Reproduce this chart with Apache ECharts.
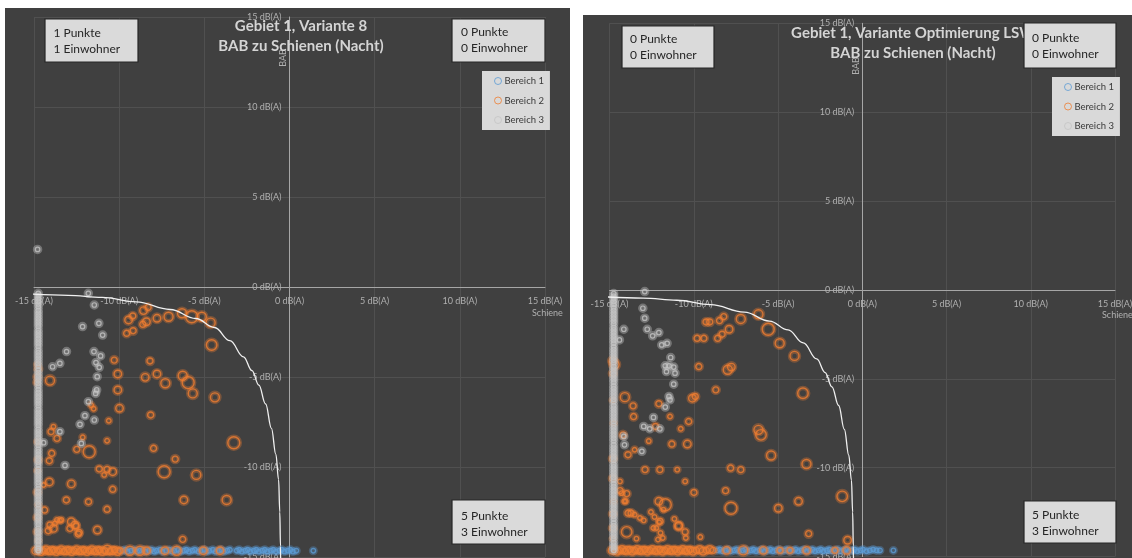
<!DOCTYPE html>
<html>
<head>
<meta charset="utf-8">
<script src="https://cdn.jsdelivr.net/npm/echarts/dist/echarts.min.js"></script>
<style>
  html, body { margin: 0; padding: 0; background: #ffffff; }
  #chart { width: 1132px; height: 558px; }
</style>
</head>
<body>
<div id="chart"></div>
<script>
// Konflikt-Diagramme: Pegeldifferenz Schiene (x) gegen BAB (y), je Immissionsort ein Kreis.
const BEREICHE = ['Bereich 1', 'Bereich 2', 'Bereich 3'];
const FARBEN = ['#5b9bd5', '#ed7d31', '#c4c4c4'];
const EINHEIT = ' dB(A)';
const ACHSE_MIN = -15, ACHSE_MAX = 15, ACHSE_SCHRITT = 5;
const ACHSENNAME_X = 'Schiene';
const ACHSENNAME_Y = 'BAB';

const TITEL = [
  ['Gebiet 1, Variante 8', 'BAB zu Schienen (Nacht)'],
  ['Gebiet 1, Variante Optimierung LSW', 'BAB zu Schienen (Nacht)']
];
// Quadranten-Zusammenfassung: oben links, oben rechts, unten rechts
const QUADRANTEN = [
  [['1 Punkte', '1 Einwohner'], ['0 Punkte', '0 Einwohner'], ['5 Punkte', '3 Einwohner']],
  [['0 Punkte', '0 Einwohner'], ['0 Punkte', '0 Einwohner'], ['5 Punkte', '3 Einwohner']]
];

// Grenzkurve (energetische Summe)
const grenzkurve = [[-15.4,-0.38],[-13,-0.46],[-11,-0.58],[-9,-0.83],[-7,-1.25],[-5.5,-1.75],[-4.4,-2.25],
  [-3.5,-2.98],[-2.7,-3.88],[-2.2,-4.65],[-1.8,-5.45],[-1.4,-6.5],[-1.06,-7.85],[-0.8,-9.3],[-0.64,-10.7],
  [-0.57,-12.5],[-0.53,-14.4],[-0.52,-15.2]];

// ---------- Variante 8 ----------
// [Schiene, BAB, Einwohnerklasse]
const b1Links = [[-9.8,-14.65],[-9.65,-14.6],[-9.5,-14.7],[-9.3,-14.65],[-9.1,-14.6],[-8.95,-14.7],[-8.8,-14.65],
  [-8.6,-14.6],[-8.45,-14.7],[-8.25,-14.65],[-8.1,-14.6],[-7.95,-14.7],[-7.8,-14.65],[-7.6,-14.6],[-7.45,-14.7],
  [-7.25,-14.65],[-7.05,-14.6],[-6.9,-14.7],[-6.75,-14.65],[-6.55,-14.6],[-6.4,-14.7],[-6.2,-14.65],[-6.05,-14.6],
  [-5.9,-14.7],[-5.7,-14.65],[-5.55,-14.6],[-5.35,-14.7],[-5.2,-14.65],[-5.0,-14.6],[-4.85,-14.7],[-4.7,-14.65],
  [-4.5,-14.6],[-4.35,-14.7],[-4.15,-14.65],[-4.0,-14.6],[-3.85,-14.7],[-3.65,-14.65],[-3.5,-14.6],
  [-3.1,-14.65],[-2.95,-14.6],[-2.8,-14.7],[-2.6,-14.65],[-2.45,-14.6],[-2.3,-14.7],[-2.1,-14.65],[-1.95,-14.6],
  [-1.8,-14.7],[-1.6,-14.65],[-1.45,-14.6],[-1.3,-14.7],[-1.1,-14.65],[-0.95,-14.6],[-0.8,-14.7],[-0.6,-14.65],
  [-0.45,-14.6],[-0.3,-14.7],[-0.1,-14.65],[0.05,-14.6],[0.2,-14.7],[0.4,-14.65],[1.4,-14.65]];

const b2Links = [[-9.45,-1.83,3],[-9.2,-1.61,2],[-9.56,-2.57,2],[-9.18,-2.43,2],[-8.57,-1.31,3],[-8.3,-1.13,2],
  [-8.61,-2.07,2],[-8.4,-1.93,3],[-7.78,-1.74,3],[-7.1,-1.65,4],[-6.31,-1.46,4],[-5.74,-1.65,6],[-5.15,-1.65,4],
  [-4.63,-1.98,4],[-4.57,-3.22,5],[-10.29,-4.06,2],[-8.19,-4.11,2],[-10.08,-4.83,3],[-8.47,-5.02,3],[-7.78,-4.83,3],
  [-7.29,-5.35,4],[-6.27,-4.93,4],[-5.95,-5.31,6],[-5.68,-5.91,4],[-4.38,-6.13,4],[-10.08,-5.72,3],[-9.98,-6.74,3],
  [-8.15,-7.11,2],[-10.61,-7.43,1],[-10.71,-8.54,1],[-7.98,-8.96,2],[-6.71,-9.56,2],[-7.36,-10.26,6],[-5.47,-10.44,4],
  [-3.27,-8.65,6],[-6.2,-11.83,3],[-3.69,-11.83,4],[-14.06,-5.2,4],[-13.86,-7.76,1],[-14.0,-8.04,2],[-13.65,-8.41,2],
  [-13.96,-9.24,2],[-14.1,-9.65,2],[-12.49,-9.02,2],[-12.14,-8.35,1],[-11.76,-9.15,6],[-11.17,-10.11,2],
  [-10.71,-10.13,2],[-10.38,-10.26,3],[-10.88,-10.44,1],[-10.38,-11.24,2],[-12.81,-10.94,3],[-14.1,-10.83,3],
  [-14.44,-11.0,1],[-13.1,-11.83,2],[-11.8,-11.93,2],[-10.71,-12.35,2],[-14.38,-12.39,2],[-11.28,-13.5,3],
  [-13.86,-13.41,3],[-14.06,-13.22,2],[-13.65,-12.94,1],[-13.39,-12.94,1],[-12.81,-13.04,3],[-12.6,-13.22,3],
  [-12.35,-13.63,2],[-6.27,-14.02,2],[-11.65,-6.56,1],[-11.5,-6.76,1],[-13.77,-13.13,1],[-13.47,-12.98,1],
  [-14.16,-13.54,2],[-12.53,-13.28,2],[-12.4,-13.72,2],[-12.89,-13.41,2],
  [-14.8,-4.3,1],[-14.75,-4.55,2],[-14.8,-5.0,2],[-14.85,-5.3,1],[-14.8,-8.6,1],[-14.75,-9.6,2],[-14.8,-10.2,1],
  [-14.8,-11.4,2],[-14.75,-12.1,1],[-14.8,-12.8,2],[-14.8,-13.6,2],[-14.75,-14.1,1],
  [-14.9,-14.65,3],[-14.75,-14.6,2],[-14.6,-14.7,3],[-14.45,-14.65,2],[-14.3,-14.6,3],[-14.15,-14.7,2],
  [-14.0,-14.65,3],[-13.85,-14.6,2],[-13.7,-14.7,3],[-13.55,-14.65,2],[-13.4,-14.6,3],[-13.25,-14.7,2],
  [-13.1,-14.65,3],[-12.95,-14.6,2],[-12.8,-14.7,3],[-12.65,-14.65,2],[-12.5,-14.6,3],[-12.35,-14.7,2],
  [-12.2,-14.65,3],[-12.05,-14.6,2],[-11.9,-14.7,3],[-11.75,-14.65,2],[-11.6,-14.6,3],[-11.45,-14.7,2],
  [-11.3,-14.65,3],[-11.15,-14.6,2],[-11.0,-14.7,3],[-10.85,-14.65,2],[-10.7,-14.6,4],[-10.55,-14.7,2],
  [-10.4,-14.65,3],[-10.25,-14.6,2],[-10.1,-14.7,3],[-9.95,-14.65,2],[-9.37,-14.65,4],[-8.78,-14.65,4],
  [-8.39,-14.65,3],[-7.31,-14.65,3],[-6.63,-14.65,4],[-5.06,-14.65,3],[-4.08,-14.65,3]];

const b3LinksStreu = [[-14.79,2.09],[-11.81,-0.35],[-11.46,-1.0],[-11.19,-2.02],[-12.15,-2.2],[-10.97,-2.67],
  [-13.09,-3.59],[-11.48,-3.59],[-11.09,-3.83],[-13.91,-4.43],[-13.48,-4.24],[-11.36,-4.2],[-11.17,-4.46],
  [-11.29,-4.98],[-11.32,-5.72],[-11.38,-5.91],[-11.81,-6.37],[-12.01,-7.15],[-12.3,-7.63],[-11.46,-7.39],
  [-13.48,-8.04],[-14.44,-8.65],[-12.22,-8.69],[-13.18,-9.91]];
// Säule bei Schiene = -14.75 (BAB-Werte)
const b3LinksSaeule = [-0.35,-0.5,-0.65,-0.8,-0.95,-1.1,-1.3,-1.45,-1.6,-1.75,-1.9,-2.05,-2.2,-2.4,-2.55,-2.7,
  -2.85,-3.0,-3.15,-3.3,-3.5,-3.65,-3.8,-3.95,-4.1,-4.25,-4.4,-4.6,-4.75,-4.9,-5.05,-5.2,-5.35,-5.5,-5.7,-5.85,
  -6.0,-6.15,-6.3,-6.45,-6.6,-6.8,-6.95,-7.1,-7.25,-7.4,-7.55,-7.7,-7.9,-8.05,-8.2,-8.35,-8.5,-8.65,-8.8,-9.0,
  -9.15,-9.3,-9.45,-9.6,-9.75,-9.9,-10.1,-10.25,-10.4,-10.55,-10.7,-10.85,-11.0,-11.2,-11.35,-11.5,-11.65,-11.8,
  -11.95,-12.1,-12.3,-12.45,-12.6,-12.75,-12.9,-13.05,-13.2,-13.4,-13.55,-13.7,-13.85,-14.0,-14.15,-14.3,-14.5,
  -14.65];

// ---------- Variante Optimierung LSW ----------
const b1Rechts = [[-8.6,-14.65],[-8.45,-14.6],[-8.3,-14.7],[-8.1,-14.65],[-7.95,-14.6],[-7.8,-14.7],[-7.6,-14.65],
  [-7.45,-14.6],[-7.3,-14.7],[-7.1,-14.65],[-6.95,-14.6],[-6.8,-14.7],[-6.6,-14.65],[-6.45,-14.6],[-6.3,-14.7],
  [-6.1,-14.65],[-5.95,-14.6],[-5.8,-14.7],[-5.6,-14.65],[-5.45,-14.6],[-5.3,-14.7],[-5.1,-14.65],[-4.95,-14.6],
  [-4.8,-14.7],[-4.6,-14.65],[-4.45,-14.6],[-4.3,-14.7],[-4.1,-14.65],[-3.95,-14.6],[-3.8,-14.7],[-3.6,-14.65],
  [-3.45,-14.6],[-3.3,-14.7],[-3.1,-14.65],[-2.95,-14.6],[-2.8,-14.7],[-2.6,-14.65],[-2.45,-14.6],[-2.3,-14.7],
  [-2.1,-14.65],[-1.95,-14.6],[-1.8,-14.7],[-1.6,-14.65],[-1.45,-14.6],[-1.3,-14.7],[-1.1,-14.65],[-0.95,-14.6],
  [-0.8,-14.7],[-0.6,-14.65],[-0.45,-14.6],[-0.3,-14.7],[-0.1,-14.65],[0.05,-14.6],[0.25,-14.7],[0.45,-14.65],
  [0.65,-14.6],[0.85,-14.65],[1.05,-14.65],[1.85,-14.65]];

const b2Rechts = [[-6.16,-1.37,4],[-5.58,-2.21,6],[-4.9,-3.0,4],[-4.02,-3.71,4],[-7.21,-1.63,4],[-7.9,-2.21,3],
  [-8.22,-1.5,2],[-8.47,-1.72,2],[-8.32,-2.49,2],[-8.58,-2.72,2],[-9.27,-1.8,2],[-9.05,-1.8,2],[-9.8,-2.72,2],
  [-9.4,-2.72,2],[-9.7,-4.31,2],[-7.98,-4.49,4],[-7.77,-4.34,3],[-8.69,-5.62,2],[-10.08,-6.09,3],[-9.91,-5.99,2],
  [-3.52,-5.81,5],[-6.16,-7.87,4],[-6.01,-8.15,5],[-5.41,-9.31,4],[-3.31,-9.79,4],[-10.3,-7.4,2],[-10.77,-7.81,1],
  [-10.38,-8.67,3],[-11.3,-8.67,2],[-11.41,-7.12,1],[-12.07,-6.4,2],[-13.6,-6.52,2],[-13.57,-7.12,2],[-14.09,-6.03,4],
  [-14.2,-8.15,2],[-13.9,-9.27,2],[-13.51,-8.99,1],[-12.67,-8.5,1],[-12.89,-10.11,2],[-12.01,-10.11,2],
  [-10.98,-10.11,1],[-7.81,-10.02,2],[-7.21,-10.11,2],[-10.51,-10.77,1],[-9.99,-11.39,2],[-8.11,-11.29,2],
  [-7.79,-12.28,6],[-4.98,-12.28,3],[-3.78,-11.89,3],[-1.19,-11.61,5],[-3.18,-13.71,2],[-0.87,-14.08,3],
  [-14.37,-11.29,2],[-14.04,-11.89,1],[-11.69,-12.08,6],[-12.07,-11.89,3],[-11.8,-12.36,1],[-11.15,-12.88,1],
  [-10.9,-13.3,3],[-10.51,-13.61,2],[-10.47,-13.95,1],[-9.61,-13.9,1],[-13.98,-13.61,5],[-13.4,-13.99,1],
  [-13.9,-12.55,2],[-13.72,-12.55,2],[-13.51,-12.64,1],[-13.19,-12.83,1],[-12.97,-12.96,1],[-12.54,-12.49,1],
  [-12.33,-12.77,1],[-12.05,-13.07,1],[-12.22,-13.39,1],[-11.97,-13.67,1],[-11.84,-13.95,1],[-12.12,-14.04,1],
  [-12.4,-13.39,1],[-14.38,-10.77,1],[-14.28,-11.43,1],[-13.98,-11.46,2],[-14.12,-11.89,1],[-12.0,-13.01,2],
  [-10.89,-13.25,3],[-12.27,-7.68,2],
  [-14.7,-4.2,4],[-14.8,-4.0,3],[-14.8,-4.7,2],[-14.8,-6.2,1],[-14.75,-7.5,1],[-14.8,-9.5,2],[-14.8,-10.6,2],
  [-14.75,-11.9,1],[-14.8,-12.6,2],[-14.8,-13.4,2],[-14.8,-14.0,1],
  [-14.85,-14.65,3],[-14.7,-14.6,2],[-14.55,-14.7,3],[-14.4,-14.65,2],[-14.25,-14.6,3],[-14.1,-14.7,2],
  [-13.95,-14.65,3],[-13.8,-14.6,2],[-13.65,-14.7,3],[-13.5,-14.65,2],[-13.35,-14.6,3],[-13.2,-14.7,2],
  [-13.05,-14.65,3],[-12.9,-14.6,2],[-12.75,-14.7,3],[-12.6,-14.65,2],[-12.45,-14.6,3],[-12.3,-14.7,2],
  [-12.15,-14.65,3],[-12.0,-14.6,2],[-11.85,-14.7,3],[-11.7,-14.65,2],[-11.55,-14.6,3],[-11.4,-14.7,2],
  [-11.25,-14.65,3],[-11.1,-14.6,2],[-10.95,-14.7,3],[-10.8,-14.65,2],[-10.65,-14.6,3],[-10.5,-14.7,2],
  [-10.35,-14.65,3],[-10.2,-14.6,2],[-10.05,-14.7,3],[-9.85,-14.65,2],[-9.65,-14.6,3],[-9.45,-14.7,3],
  [-9.25,-14.65,2],[-9.05,-14.6,3],[-8.85,-14.65,2],[-8.05,-14.65,3],[-7.06,-14.65,4],[-5.87,-14.65,3],
  [-4.88,-14.65,2],[-4.29,-14.65,2],[-3.3,-14.65,3],[-1.62,-14.65,2],[-0.92,-14.65,3]];

const b3RechtsStreu = [[-12.91,-0.09],[-13.02,-1.03],[-12.91,-1.59],[-12.76,-2.21],[-12.44,-2.58],[-12.07,-2.4],
  [-11.9,-3.09],[-11.58,-3.0],[-11.37,-3.8],[-11.69,-4.27],[-11.47,-4.27],[-11.19,-4.34],[-11.62,-4.59],
  [-11.11,-4.68],[-11.19,-5.3],[-11.47,-5.99],[-11.41,-6.18],[-11.69,-6.59],[-12.39,-7.17],[-12.97,-7.68],
  [-12.61,-7.81],[-12.01,-7.81],[-14.15,-2.21],[-14.41,-2.81],[-14.15,-8.24],[-14.11,-8.71],[-13.08,-9.08]];
const b3RechtsSaeule = [-0.2,-0.35,-0.5,-0.65,-0.8,-1.0,-1.15,-1.3,-1.45,-1.6,-1.75,-1.9,-2.1,-2.25,-2.4,-2.55,
  -2.7,-2.85,-3.0,-3.2,-3.35,-3.5,-3.65,-3.8,-3.95,-4.1,-4.3,-4.45,-4.6,-4.75,-4.9,-5.05,-5.2,-5.4,-5.55,-5.7,
  -5.85,-6.0,-6.15,-6.3,-6.5,-6.65,-6.8,-6.95,-7.1,-7.25,-7.4,-7.6,-7.75,-7.9,-8.05,-8.2,-8.35,-8.5,-8.7,-8.85,
  -9.0,-9.15,-9.3,-9.45,-9.6,-9.8,-9.95,-10.1,-10.25,-10.4,-10.55,-10.7,-10.9,-11.05,-11.2,-11.35,-11.5,-11.65,
  -11.8,-12.0,-12.15,-12.3,-12.45,-12.6,-12.75,-12.9,-13.1,-13.25,-13.4,-13.55,-13.7,-13.85,-14.0,-14.2,-14.35,
  -14.5,-14.65];
const SAEULE_X = -14.75;

const PANEL_DATEN = [
  { b1: b1Links, b2: b2Links, saeule: b3LinksSaeule, streu: b3LinksStreu },
  { b1: b1Rechts, b2: b2Rechts, saeule: b3RechtsSaeule, streu: b3RechtsStreu }
];

// ---------- Layout ----------
const FONT = 'Lato';
const LAYOUT = [
  { bg: [5, 8, 565, 570], grid: { left: 34, top: 17, width: 511, height: 540 }, titleX: 301, titleTop: 16,
    boxes: [[45, 19, 93, 43, 53.5, 25], [452, 19, 93, 43, 461, 24], [452, 500, 93, 44, 461, 508]],
    legend: { left: 482, top: 71 }, bab: [283, 58], schiene: [532, 313] },
  { bg: [583, 15, 560, 570], grid: { left: 609.5, top: 23.3, width: 505.5, height: 533.3 }, titleX: 913, titleTop: 23,
    boxes: [[622, 26, 92, 42, 630, 31], [1024, 23, 92, 45, 1032, 30], [1024, 501, 92, 42, 1032, 507]],
    legend: { left: 1052, top: 77 }, bab: [856, 66], schiene: [1102, 315] }
];

const groesse = d => 3 + 1.5 * (d[2] !== undefined ? d[2] : 1);
const rgba = (hex, a) => {
  const n = parseInt(hex.slice(1), 16);
  return 'rgba(' + (n >> 16) + ',' + ((n >> 8) & 255) + ',' + (n & 255) + ',' + a + ')';
};
// Kreise: breiter, halbtransparenter Leuchtrand unter einem schmalen Ring
const haloStil = k => ({ color: 'none', borderColor: rgba(FARBEN[k], k === 2 ? 0.5 : 0.42), borderWidth: k === 2 ? 5 : 4.5 });
const ringStil = k => ({ color: 'none', borderColor: FARBEN[k], borderWidth: k === 2 ? 1.2 : 1.4 });

const grids = [], xAxes = [], yAxes = [], titles = [], legends = [], series = [], graphics = [];
const nullAnteil = (0 - ACHSE_MIN) / (ACHSE_MAX - ACHSE_MIN);

LAYOUT.forEach((L, i) => {
  grids.push(Object.assign({ outerBoundsMode: 'none', containLabel: false }, L.grid));
  // Achsen liegen im Nullpunkt der jeweils anderen Achse
  const achse = (pos, offset, margin) => ({
    type: 'value', gridIndex: i, position: pos, offset: offset,
    min: ACHSE_MIN, max: ACHSE_MAX, interval: ACHSE_SCHRITT,
    axisLine: { onZero: false, lineStyle: { color: '#a6a6a6', width: 1 } },
    axisTick: { show: false },
    axisLabel: { formatter: v => v + EINHEIT, color: '#b0b0b0', fontSize: 9, fontFamily: FONT, margin: margin,
                 hideOverlap: false },
    splitLine: { show: true, lineStyle: { color: '#505050', width: 1 } }
  });
  xAxes.push(achse('bottom', -L.grid.height * nullAnteil, 10));
  yAxes.push(achse('left', -L.grid.width * nullAnteil, 8));

  titles.push({
    text: TITEL[i].join('\n'), left: L.titleX, top: L.titleTop, textAlign: 'center', padding: 0,
    textStyle: { fontSize: 15, fontWeight: 'bold', color: '#d4d4d4', lineHeight: 20, fontFamily: FONT }
  });

  legends.push({
    left: L.legend.left, top: L.legend.top, orient: 'vertical', padding: [4, 6, 4, 10],
    itemGap: 7.5, itemWidth: 7, itemHeight: 7, backgroundColor: '#d9d9d9', selectedMode: false,
    textStyle: { fontSize: 9.5, color: '#3a3a3a', fontFamily: FONT, lineHeight: 12, padding: [0, 0, 0, -2] },
    data: BEREICHE.map((n, k) => ({
      name: n, icon: 'circle',
      itemStyle: { color: 'none', borderColor: FARBEN[k], borderWidth: 1, shadowBlur: 0 }
    }))
  });

  const d = PANEL_DATEN[i];
  const reihen = [d.b1, d.b2, d.saeule.map(y => [SAEULE_X, y]).concat(d.streu)];
  reihen.forEach((daten, k) => {
    const size = k === 2 ? 4.5 : groesse;
    series.push({
      name: BEREICHE[k], type: 'scatter', xAxisIndex: i, yAxisIndex: i, data: daten,
      symbol: 'circle', symbolSize: size, itemStyle: haloStil(k), emphasis: { disabled: true }, silent: true
    });
    series.push({
      name: BEREICHE[k], type: 'scatter', xAxisIndex: i, yAxisIndex: i, data: daten,
      symbol: 'circle', symbolSize: size, itemStyle: ringStil(k), emphasis: { disabled: true }
    });
  });
  series.push({
    type: 'line', xAxisIndex: i, yAxisIndex: i, data: grenzkurve, symbol: 'none', clip: false,
    smooth: 0.4, smoothMonotone: 'x', lineStyle: { color: '#f0f0f0', width: 1.3 }, z: 5,
    emphasis: { disabled: true }
  });

  graphics.push({
    type: 'rect', z: -10, shape: { x: L.bg[0], y: L.bg[1], width: L.bg[2], height: L.bg[3] },
    style: { fill: '#404040' }
  });
  L.boxes.forEach((b, k) => {
    graphics.push({
      type: 'rect', z: 100, shape: { x: b[0], y: b[1], width: b[2], height: b[3] },
      style: { fill: '#dadada', stroke: '#262626', lineWidth: 1.2 }
    });
    graphics.push({
      type: 'text', z: 101, x: b[4], y: b[5],
      style: { text: QUADRANTEN[i][k].join('\n'), font: '12px ' + FONT, fill: '#262626',
               lineHeight: 16, verticalAlign: 'top', align: 'left' }
    });
  });
  graphics.push({
    type: 'text', z: 5, x: L.bab[0], y: L.bab[1], rotation: Math.PI / 2,
    style: { text: ACHSENNAME_Y, font: '9px ' + FONT, fill: '#b0b0b0', align: 'center', verticalAlign: 'middle' }
  });
  graphics.push({
    type: 'text', z: 5, x: L.schiene[0], y: L.schiene[1],
    style: { text: ACHSENNAME_X, font: '9px ' + FONT, fill: '#b0b0b0', align: 'left', verticalAlign: 'middle' }
  });
});

const chart = echarts.init(document.getElementById('chart'), null, { renderer: 'canvas' });
chart.setOption({
  backgroundColor: '#ffffff',
  animation: false,
  title: titles,
  legend: legends,
  grid: grids,
  xAxis: xAxes,
  yAxis: yAxes,
  series: series,
  graphic: { elements: graphics }
});
</script>
</body>
</html>
